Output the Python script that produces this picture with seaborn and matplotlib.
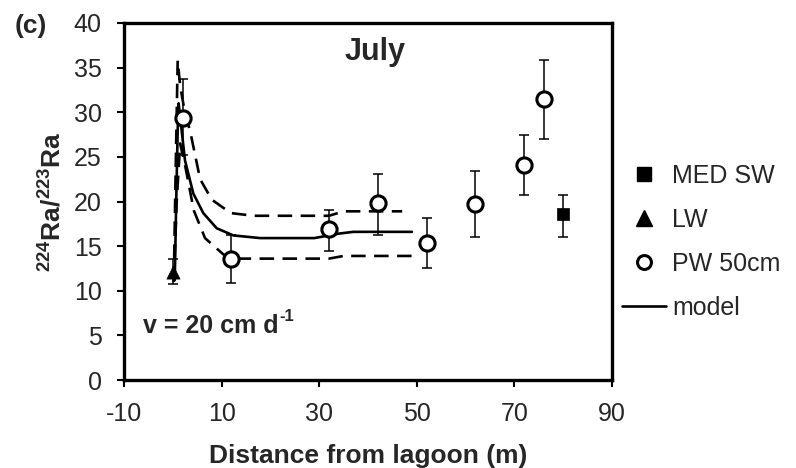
import matplotlib
matplotlib.use("Agg")
import matplotlib.pyplot as plt
from matplotlib.lines import Line2D
import seaborn as sns
import pandas as pd
import numpy as np

# ---- data ----
pw_x = [2, 12, 32, 42, 52, 62, 72, 76]
pw_y = [29.4, 13.6, 16.9, 19.8, 15.4, 19.7, 24.1, 31.5]
pw_lo = [25.2, 10.9, 14.5, 16.2, 12.6, 16.0, 20.7, 27.0]
pw_hi = [33.7, 16.2, 19.1, 23.1, 18.2, 23.4, 27.5, 35.9]

lw_x = [0]
lw_y = [12.1]
lw_lo = [10.8]
lw_hi = [13.6]

sw_x = [80]
sw_y = [18.6]
sw_lo = [16.0]
sw_hi = [20.7]

model_x = [0.4, 0.7, 1.0, 1.2, 1.6, 2.5, 4.2, 6.25, 9.0, 12.4, 17.9, 25, 29, 31, 34, 37, 42, 49]
model_y = [11.2, 20, 28, 31, 29, 24.6, 20.9, 18.7, 17.0, 16.2, 15.9, 15.9, 15.9, 16.1, 16.4, 16.6, 16.6, 16.6]

upper_x = [0.2, 0.6, 1.0, 1.5, 2.3, 3.7, 5.6, 8.0, 11.9, 16.6, 32, 35, 47]
upper_y = [11, 24, 35.8, 33, 30.5, 27.5, 22.5, 20.2, 18.7, 18.4, 18.4, 18.9, 18.9]

lower_x = [0.2, 0.8, 1.5, 2.5, 4.3, 6.6, 10.3, 12, 20, 32, 35, 49]
lower_y = [11, 20, 26.5, 24.1, 19.0, 15.9, 14.1, 13.6, 13.6, 13.6, 13.9, 13.9]

x_ticks = [-10, 10, 30, 50, 70, 90]
y_ticks = [0, 5, 10, 15, 20, 25, 30, 35, 40]

# ---- style ----
sns.set_style("white")
plt.rcParams['font.family'] = ['Liberation Sans', 'DejaVu Sans']
plt.rcParams['mathtext.fontset'] = 'custom'
plt.rcParams['mathtext.rm'] = 'Liberation Sans'
plt.rcParams['mathtext.bf'] = 'Liberation Sans:bold'
plt.rcParams['axes.unicode_minus'] = False

fig = plt.figure(figsize=(7.96, 4.68), dpi=100)
ax = fig.add_axes([124/796, 1-380/468, (612-124)/796, (380-23)/468])

LW = 1.9
dash = (0, (5.5, 3.2))

df_m = pd.DataFrame({"x": model_x, "y": model_y})
df_u = pd.DataFrame({"x": upper_x, "y": upper_y})
df_l = pd.DataFrame({"x": lower_x, "y": lower_y})
sns.lineplot(data=df_u, x="x", y="y", sort=False, ax=ax, color="black", lw=LW, linestyle=dash, zorder=2)
sns.lineplot(data=df_l, x="x", y="y", sort=False, ax=ax, color="black", lw=LW, linestyle=dash, zorder=2)
sns.lineplot(data=df_m, x="x", y="y", sort=False, ax=ax, color="black", lw=LW, zorder=2)

def ebar(xs, ys, lo, hi):
    yerr = [np.array(ys) - np.array(lo), np.array(hi) - np.array(ys)]
    ax.errorbar(xs, ys, yerr=yerr, fmt="none", ecolor="black", elinewidth=1.1,
                capsize=3.8, capthick=1.1, zorder=3)

ebar(pw_x, pw_y, pw_lo, pw_hi)
ebar(lw_x, lw_y, lw_lo, lw_hi)
ebar(sw_x, sw_y, sw_lo, sw_hi)

sns.scatterplot(x=pw_x, y=pw_y, ax=ax, marker="o", s=120, facecolor="white",
                edgecolor="black", linewidth=2.2, zorder=4)
sns.scatterplot(x=lw_x, y=lw_y, ax=ax, marker="^", s=90, color="black",
                edgecolor="black", linewidth=0.5, zorder=4)
sns.scatterplot(x=sw_x, y=sw_y, ax=ax, marker="s", s=80, color="black",
                edgecolor="black", linewidth=0.5, zorder=4)

ax.set_xlim(-10, 90)
ax.set_ylim(0, 40)
ax.set_xticks(x_ticks)
ax.set_yticks(y_ticks)
ax.tick_params(axis="both", which="major", labelsize=18, direction="out",
               length=5, width=1.5, color="black", left=True, bottom=True)
ax.tick_params(axis="y", pad=11)
ax.tick_params(axis="x", pad=11)
for s in ax.spines.values():
    s.set_visible(True)
    s.set_color("black")
    s.set_linewidth(2.4)

ax.set_xlabel("Distance from lagoon (m)", fontsize=19, fontweight="bold", labelpad=13)
ax.set_ylabel(r"$^{\mathbf{224}}$Ra/$^{\mathbf{223}}$Ra", fontsize=19, fontweight="bold", labelpad=6)

ax.text(41.5, 36.8, "July", fontsize=22, fontweight="bold", ha="center", va="center")
vt = ax.text(-6.2, 6.0, "v = 20 cm d", fontsize=18, fontweight="bold", ha="left", va="center")
ax.annotate("-1", xy=(1.0, 0.93), xycoords=vt, xytext=(1, 0), textcoords="offset points",
            fontsize=12, fontweight="bold", ha="left", va="center")
fig.text(15/796, 1-26/468, "(c)", fontsize=19, fontweight="bold", ha="left", va="center")

handles = [
    Line2D([], [], marker="s", color="black", linestyle="none", markersize=10),
    Line2D([], [], marker="^", color="black", linestyle="none", markersize=11),
    Line2D([], [], marker="o", markerfacecolor="white", markeredgecolor="black",
           markeredgewidth=2.2, linestyle="none", markersize=10),
    Line2D([], [], color="black", lw=LW),
]
labels = ["MED SW", "LW", "PW 50cm", "model"]
fig.legend(handles, labels, loc="center left", bbox_to_anchor=(622/796, 1-242/468),
           frameon=False, fontsize=18, handlelength=1.75, handletextpad=0.25,
           labelspacing=0.8, borderpad=0, borderaxespad=0)

fig.savefig("out.png", dpi=100)
